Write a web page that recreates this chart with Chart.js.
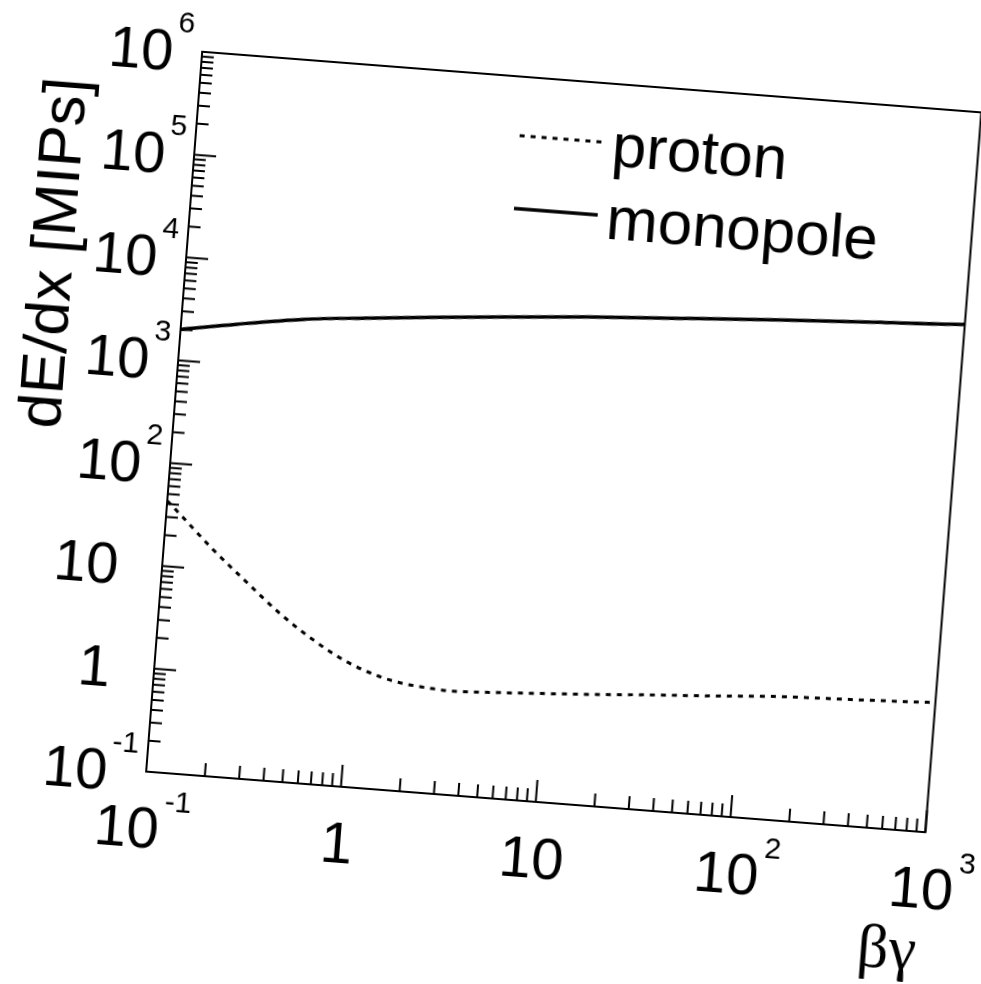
<!DOCTYPE html>
<html>
<head>
<meta charset="utf-8">
<script src="https://cdn.jsdelivr.net/npm/chart.js@4.4.1/dist/chart.umd.min.js"></script>
<style>
  html, body { margin: 0; padding: 0; background: #fff; overflow: hidden; }
  #wrap { position: relative; width: 981px; height: 984px; overflow: hidden; }
  /* the scan is tilted a little, so the whole canvas is turned round the frame centre */
  #myChart { display: block; transform: rotate(4.45deg); transform-origin: 563.75px 442px; }
</style>
</head>
<body>
<div id="wrap"><canvas id="myChart" width="1100" height="1050"></canvas></div>
<script>
// values (beta*gamma, dE/dx in MIPs)
const protonBg = [0.1, 0.117, 0.18, 0.273, 0.417, 0.632, 0.955, 1.43, 1.94, 2.6, 3.31, 5.96, 10.7, 19.4, 34.8, 62.8, 161, 353, 908, 1000]
const protonDedx = [43, 32.9, 15.6, 8.1, 4.25, 2.5, 1.63, 1.24, 1.1, 1.045, 1.02, 1.07, 1.14, 1.22, 1.32, 1.41, 1.59, 1.68, 1.81, 1.83]
const monopoleBg = [0.1, 0.193, 0.42, 0.92, 2.01, 4.4, 11.7, 35.2, 114, 371, 950, 1000]
const monopoleDedx = [1990, 2470, 3090, 3570, 4080, 4600, 5320, 6070, 6950, 7860, 8630, 8700]

// axis ticks
const xTickValues = [0.1, 1, 10, 100, 1000]
const xTickLabels = ['10^-1', '1', '10', '10^2', '10^3']
const yTickValues = [0.1, 1, 10, 100, 1000, 1e4, 1e5, 1e6]
const yTickLabels = ['10^-1', '1', '10', '10^2', '10^3', '10^4', '10^5', '10^6']

const xTitle = '\u03b2\u03b3'
const yTitle = 'dE/dx [MIPs]'
const seriesNames = ['proton', 'monopole']

const baseFont = '58px "Liberation Sans", Arial, sans-serif'
const expFont = '30px "Liberation Sans", Arial, sans-serif'

function toPoints(xs, ys) {
    return xs.map((v, i) => ({ x: v, y: ys[i] }))
}

// 1..9 times every decade inside the range
function logTicks(min, max) {
    const out = []
    for (let e = Math.floor(Math.log10(min)); e <= Math.ceil(Math.log10(max)); e++) {
        for (let m = 1; m <= 9; m++) {
            const v = m * Math.pow(10, e)
            if (v >= min * 0.999 && v <= max * 1.001) out.push({ v, major: m === 1 })
        }
    }
    return out
}

// root style frame, inward ticks and 10^n labels
const rootAxes = {
    id: 'rootAxes',
    afterDraw(chart) {
        const { ctx, chartArea: a, scales: { x, y } } = chart
        ctx.save()
        ctx.strokeStyle = '#000'
        ctx.fillStyle = '#000'
        ctx.lineWidth = 2
        ctx.strokeRect(a.left, a.top, a.right - a.left, a.bottom - a.top)

        ctx.beginPath()
        logTicks(x.min, x.max).forEach(t => {
            const px = x.getPixelForValue(t.v)
            ctx.moveTo(px, a.bottom)
            ctx.lineTo(px, a.bottom - (t.major ? 22 : 13))
        })
        logTicks(y.min, y.max).forEach(t => {
            const py = y.getPixelForValue(t.v)
            ctx.moveTo(a.left, py)
            ctx.lineTo(a.left + (t.major ? 22 : 12), py)
        })
        ctx.stroke()

        ctx.textBaseline = 'alphabetic'

        // y labels
        yTickValues.forEach((v, i) => {
            const py = y.getPixelForValue(v)
            const [base, exp] = yTickLabels[i].split('^')
            if (exp) {
                const right = a.left - 9
                ctx.font = expFont
                ctx.textAlign = 'right'
                const ew = ctx.measureText(exp).width
                ctx.fillText(exp, right, py - 18)
                ctx.font = baseFont
                ctx.fillText(base, right - ew - 3, py + 21)
            } else {
                // plain numbers: line up the ink, not the advance
                ctx.font = baseFont
                ctx.textAlign = 'left'
                const m = ctx.measureText(base)
                ctx.fillText(base, a.left - 46 - m.actualBoundingBoxRight, py + 21)
            }
        })

        // x labels
        xTickValues.forEach((v, i) => {
            const px = x.getPixelForValue(v)
            const [base, exp] = xTickLabels[i].split('^')
            ctx.font = baseFont
            const bw = ctx.measureText(base).width
            let ew = 0
            if (exp) {
                ctx.font = expFont
                ew = ctx.measureText(exp).width + 4
            }
            // negative exponent: whole label centred, else the base
            const left = exp && exp[0] === '-' ? px - (bw + ew) / 2 : px - bw / 2
            ctx.textAlign = 'left'
            ctx.font = baseFont
            ctx.fillText(base, left, a.bottom + 76)
            if (exp) {
                ctx.font = expFont
                ctx.fillText(exp, left + bw + 4, a.bottom + 38)
            }
        })

        // axis titles
        ctx.font = '62px "Liberation Serif", "DejaVu Serif", serif'
        ctx.textAlign = 'right'
        ctx.fillText(xTitle, a.right, a.bottom + 138)

        ctx.save()
        ctx.translate(a.left - 113, a.top + 212)
        ctx.rotate(-Math.PI / 2)
        ctx.font = '62px "Liberation Sans", Arial, sans-serif'
        ctx.textAlign = 'center'
        ctx.fillText(yTitle, 0, 0)
        ctx.restore()

        // legend
        ctx.font = '62px "Liberation Sans", Arial, sans-serif'
        ctx.textAlign = 'left'
        chart.data.datasets.forEach((ds, i) => {
            const base = a.top + 82 + i * 73
            ctx.lineWidth = ds.borderWidth
            ctx.setLineDash(ds.borderDash || [])
            ctx.beginPath()
            ctx.moveTo(a.left + 323, base - 23)
            ctx.lineTo(a.left + 407, base - 23)
            ctx.stroke()
            ctx.setLineDash([])
            ctx.fillText(ds.label, a.left + 416, base)
        })
        ctx.restore()
    }
}

const ctx = document.getElementById('myChart').getContext('2d')

const myChart = new Chart(ctx, {
    type: 'line',
    data: {
        datasets: [{
            label: seriesNames[0],
            data: toPoints(protonBg, protonDedx),
            borderColor: '#000',
            borderWidth: 3,
            borderDash: [5, 6],
            pointRadius: 0,
            fill: false,
            cubicInterpolationMode: 'monotone'
        },
        {
            label: seriesNames[1],
            data: toPoints(monopoleBg, monopoleDedx),
            borderColor: '#000',
            borderWidth: 3.5,
            pointRadius: 0,
            fill: false,
            cubicInterpolationMode: 'monotone'
        }]
    },
    options: {
        responsive: false,
        animation: false,
        devicePixelRatio: 1,
        layout: { padding: { left: 173, top: 81, right: 145.5, bottom: 247 } },
        scales: {
            x: { type: 'logarithmic', min: 0.1, max: 1000, display: false },
            y: { type: 'logarithmic', min: 0.1, max: 1e6, display: false }
        },
        plugins: {
            legend: { display: false },
            tooltip: { enabled: false }
        }
    },
    plugins: [rootAxes]
})
</script>
</body>
</html>
